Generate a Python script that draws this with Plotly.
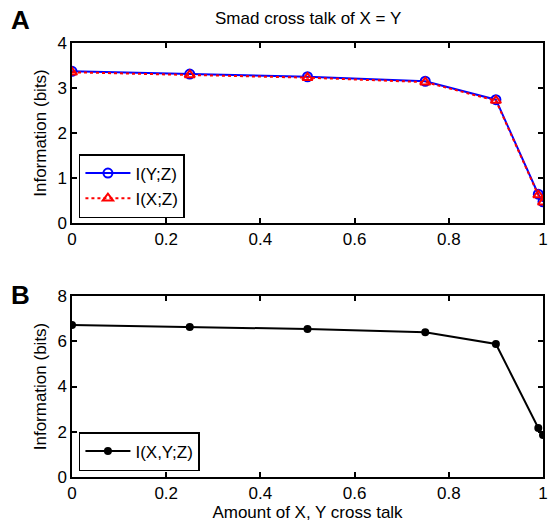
import plotly.graph_objects as go
from plotly.subplots import make_subplots

# ---- data ----
cross_talk = [0, 0.25, 0.5, 0.75, 0.9, 0.99, 1.0]
info_YZ = [3.37, 3.31, 3.25, 3.15, 2.74, 0.64, 0.47]
info_XZ = [3.35, 3.29, 3.23, 3.13, 2.72, 0.62, 0.46]
info_XYZ = [6.72, 6.63, 6.54, 6.40, 5.88, 2.17, 1.86]
x_ticks = [0, 0.2, 0.4, 0.6, 0.8, 1]
x_tick_text = ["0", "0.2", "0.4", "0.6", "0.8", "1"]
yA_ticks = [0, 1, 2, 3, 4]
yB_ticks = [0, 2, 4, 6, 8]

FONT = "Liberation Sans, Arial, Helvetica, sans-serif"
FS = 17

fig = make_subplots(rows=2, cols=1, vertical_spacing=0.0)

fig.add_trace(go.Scatter(
    x=cross_talk, y=info_YZ, name="I(Y;Z)", mode="lines+markers",
    line=dict(color="#0000ff", width=2),
    marker=dict(symbol="circle-open", size=9, color="#0000ff", line=dict(width=2)),
    legend="legend"), row=1, col=1)
fig.add_trace(go.Scatter(
    x=cross_talk, y=info_XZ, name="I(X;Z)", mode="lines+markers",
    line=dict(color="#ff0000", width=2, dash="dot"),
    marker=dict(symbol="triangle-up-open", size=9, color="#ff0000", line=dict(width=2)),
    legend="legend"), row=1, col=1)
fig.add_trace(go.Scatter(
    x=cross_talk, y=info_XYZ, name="I(X,Y;Z)", mode="lines+markers",
    line=dict(color="#000000", width=2),
    marker=dict(symbol="circle", size=8, color="#000000"),
    legend="legend2"), row=2, col=1)

# plot area in pixels: x 72..548, A: y 43..223, B: y 296..477
H = 523
W = 549
left, right = 72, 548
top, bottom = 43, 477
span = bottom - top
domA = [(bottom - 223) / span, 1.0]
domB = [0.0, (bottom - 296) / span]

axis_common = dict(
    showline=True, linecolor="black", linewidth=1.5, mirror="ticks",
    ticks="inside", ticklen=5, tickwidth=1.5, tickcolor="black",
    showgrid=False, zeroline=False,
    tickfont=dict(family=FONT, size=FS, color="black"),
)

fig.update_xaxes(range=[0, 1], tickvals=x_ticks, ticktext=x_tick_text,
                 ticklabeloverflow="allow", **axis_common)
fig.update_yaxes(**axis_common)
fig.update_yaxes(range=[0, 4], tickvals=yA_ticks, domain=domA, row=1, col=1,
                 title=dict(text="Information (bits)", font=dict(family=FONT, size=FS, color="black"), standoff=6))
fig.update_yaxes(range=[0, 8], tickvals=yB_ticks, domain=domB, row=2, col=1,
                 title=dict(text="Information (bits)", font=dict(family=FONT, size=FS, color="black"), standoff=6))
fig.update_xaxes(row=2, col=1,
                 title=dict(text="Amount of X, Y cross talk", font=dict(family=FONT, size=FS, color="black"), standoff=4))

pw = right - left

def py(pix):
    return (bottom - pix) / span

fig.update_layout(
    width=W, height=H,
    margin=dict(l=left, r=W - right, t=top, b=H - bottom),
    paper_bgcolor="white", plot_bgcolor="white",
    font=dict(family=FONT, size=FS, color="black"),
    showlegend=True,
    legend=dict(x=(79 - left) / pw, y=py(218), xanchor="left", yanchor="bottom",
                bordercolor="black", borderwidth=1.5, bgcolor="white",
                font=dict(family=FONT, size=FS, color="black"),
                tracegroupgap=0, itemwidth=45),
    legend2=dict(x=(79 - left) / pw, y=py(471), xanchor="left", yanchor="bottom",
                 bordercolor="black", borderwidth=1.5, bgcolor="white",
                 font=dict(family=FONT, size=FS, color="black"),
                 itemwidth=45),
    annotations=[
        dict(text="Smad cross talk of X = Y", xref="paper", yref="paper",
             x=0.5, y=py(18), xanchor="center", yanchor="middle", showarrow=False,
             font=dict(family=FONT, size=FS, color="black")),
        dict(text="<b>A</b>", xref="paper", yref="paper",
             x=(8 - left) / pw, y=py(20), xanchor="left", yanchor="middle", showarrow=False,
             font=dict(family=FONT, size=26, color="black")),
        dict(text="<b>B</b>", xref="paper", yref="paper",
             x=(8 - left) / pw, y=py(295), xanchor="left", yanchor="middle", showarrow=False,
             font=dict(family=FONT, size=26, color="black")),
    ],
)

fig.write_html("out.html")
